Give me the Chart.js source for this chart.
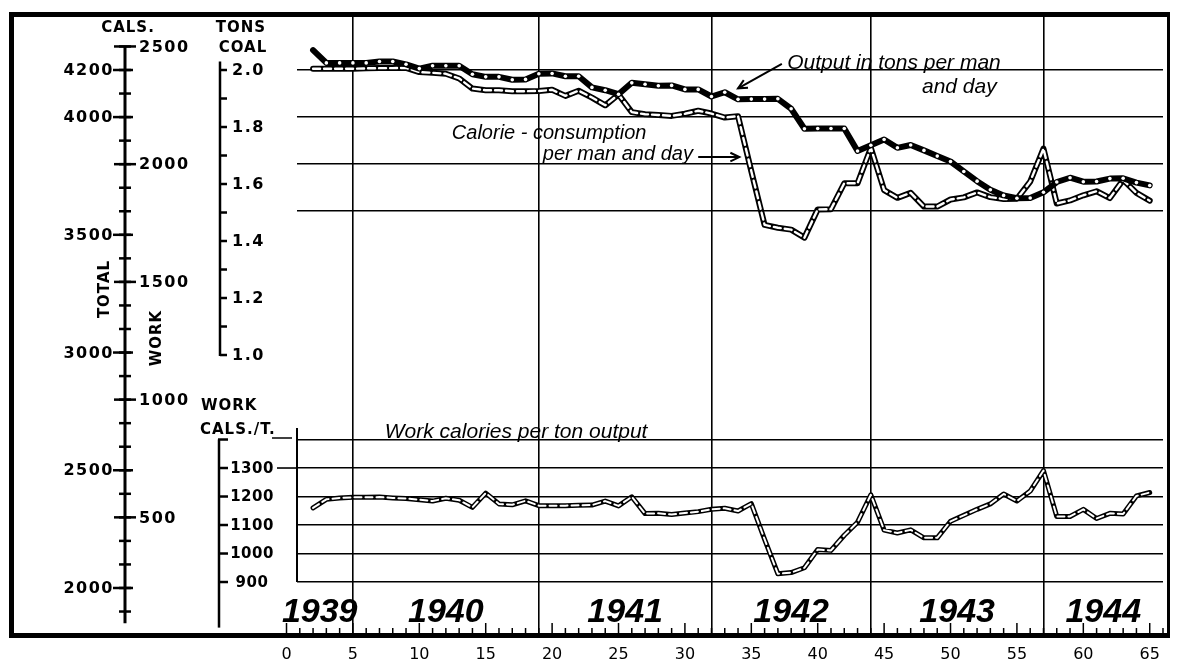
<!DOCTYPE html>
<html>
<head>
<meta charset="utf-8">
<script src="https://cdn.jsdelivr.net/npm/chart.js@4.4.1/dist/chart.umd.min.js"></script>
<style>
  html, body { margin: 0; padding: 0; background: #fff; }
  #wrap { position: relative; width: 1177px; height: 666px; }
  #frame {
    position: absolute; left: 9px; top: 12px; width: 1161px; height: 626px;
    box-sizing: border-box; border: 5px solid #000; border-right-width: 3px;
    pointer-events: none;
  }
</style>
</head>
<body>
<div id="wrap">
  <canvas id="chart" width="1177" height="666"></canvas>
  <div id="frame"></div>
</div>
<script>
// 4-week periods, 1939 - 1944
const periods = [2, 3, 4, 5, 6, 7, 8, 9, 10, 11, 12, 13, 14, 15, 16, 17, 18, 19, 20, 21,
  22, 23, 24, 25, 26, 27, 28, 29, 30, 31, 32, 33, 34, 35, 36, 37, 38, 39, 40, 41,
  42, 43, 44, 45, 46, 47, 48, 49, 50, 51, 52, 53, 54, 55, 56, 57, 58, 59, 60, 61,
  62, 63, 64, 65];

// total calorie consumption per man and day
const calories = [4205, 4205, 4205, 4205, 4207, 4208, 4208, 4209, 4191, 4188, 4184, 4164, 4121, 4114, 4114, 4110, 4110, 4111, 4116, 4090,
  4112, 4083, 4050, 4096, 4021, 4012, 4009, 4005, 4014, 4027, 4015, 3998, 4004, 3770, 3542, 3530, 3522, 3488, 3608, 3609,
  3719, 3719, 3869, 3690, 3657, 3678, 3620, 3620, 3650, 3659, 3680, 3660, 3652, 3653, 3726, 3866, 3633, 3646, 3668, 3685,
  3656, 3733, 3678, 3645];

// output in tons per man and day
const output = [2.07, 2.025, 2.025, 2.025, 2.025, 2.03, 2.03, 2.02, 2.005, 2.015, 2.015, 2.015, 1.985, 1.976, 1.976, 1.966, 1.967, 1.987, 1.988, 1.978,
  1.978, 1.939, 1.929, 1.915, 1.955, 1.95, 1.945, 1.946, 1.932, 1.932, 1.907, 1.922, 1.897, 1.898, 1.898, 1.899, 1.864, 1.794, 1.795, 1.795,
  1.795, 1.716, 1.736, 1.756, 1.727, 1.737, 1.718, 1.698, 1.679, 1.644, 1.61, 1.58, 1.56, 1.55, 1.551, 1.571, 1.607, 1.622, 1.608, 1.609,
  1.619, 1.62, 1.605, 1.595];

// work calories per ton output
const perTon = [1160, 1190, 1195, 1197, 1197, 1198, 1195, 1193, 1189, 1184, 1194, 1187, 1162, 1212, 1174, 1171, 1185, 1168, 1168, 1168,
  1169, 1170, 1184, 1167, 1199, 1140, 1141, 1137, 1142, 1147, 1155, 1159, 1149, 1175, 1050, 929, 933, 950, 1014, 1011,
  1064, 1110, 1206, 1082, 1072, 1083, 1055, 1055, 1113, 1134, 1155, 1174, 1209, 1184, 1219, 1291, 1130, 1130, 1155, 1123,
  1141, 1139, 1202, 1214];

const xLabels = [0, 5, 10, 15, 20, 25, 30, 35, 40, 45, 50, 55, 60, 65];
const yearLines = [5, 19, 32, 44, 57];
const yearBounds = [0, 5, 19, 32, 44, 57, 66];
const yearNames = ['1939', '1940', '1941', '1942', '1943', '1944'];

const totalCalLabels = [4200, 4000, 3500, 3000, 2500, 2000];
const workCalLabels = [2500, 2000, 1500, 1000, 500];
const BASAL = 1800; // total = work + basal
const tonsLabels = [2.0, 1.8, 1.6, 1.4, 1.2, 1.0];
const perTonLabels = [1300, 1200, 1100, 1000, 900];
const calGrid = [3600, 3800, 4000, 4200];
const perTonGrid = [900, 1000, 1100, 1200, 1300, 1400];

const notes = [
  { text: 'Output in tons per man', at: 37.7, cal: 4204, size: 21 },
  { text: 'and day', at: 47.85, cal: 4104, size: 21 },
  { text: 'Calorie - consumption', at: 12.45, cal: 3906, size: 20 },
  { text: 'per man and day', at: 19.3, cal: 3817, size: 20 }
];

function pts(ys) {
  return periods.map((p, i) => ({ x: p, y: ys[i] }));
}

function seg(ctx, x1, y1, x2, y2) {
  ctx.beginPath();
  ctx.moveTo(x1, y1);
  ctx.lineTo(x2, y2);
  ctx.stroke();
}

function arrow(ctx, x1, y1, x2, y2) {
  seg(ctx, x1, y1, x2, y2);
  const a = Math.atan2(y2 - y1, x2 - x1);
  const L = 10;
  ctx.beginPath();
  ctx.moveTo(x2 - L * Math.cos(a - 0.45), y2 - L * Math.sin(a - 0.45));
  ctx.lineTo(x2, y2);
  ctx.lineTo(x2 - L * Math.cos(a + 0.45), y2 - L * Math.sin(a + 0.45));
  ctx.stroke();
}

// axes drawn the old paper way, positioned through the chart scales
const paperAxes = {
  id: 'paperAxes',
  afterDraw(chart) {
    const { ctx, chartArea, scales } = chart;
    const xs = scales.x, yc = scales.yCal, yt = scales.yTons, yw = scales.yWork;
    ctx.save();
    ctx.strokeStyle = '#000';
    ctx.fillStyle = '#000';
    ctx.textBaseline = 'middle';

    // calorie axis (total on the left, work on the right)
    const cx = 125;
    ctx.lineWidth = 3;
    seg(ctx, cx, yc.getPixelForValue(4300), cx, yc.getPixelForValue(1850));
    ctx.lineWidth = 2.5;
    for (let v = 1900; v <= 4300; v += 100) {
      const y = yc.getPixelForValue(v);
      seg(ctx, cx - 6, y, cx + 6, y);
    }
    ctx.font = 'bold 16px "DejaVu Sans"';
    ctx.letterSpacing = '1.5px';
    ctx.textAlign = 'right';
    totalCalLabels.forEach(v => {
      const y = yc.getPixelForValue(v);
      seg(ctx, cx - 12, y, cx + 8, y);
      ctx.fillText(String(v), cx - 11, y + 1);
    });
    ctx.textAlign = 'left';
    workCalLabels.forEach(v => {
      const y = yc.getPixelForValue(v + BASAL);
      seg(ctx, cx - 11, y, cx + 11, y);
      ctx.fillText(String(v), cx + 14, y + 1);
    });

    ctx.font = 'bold 15px "DejaVu Sans"';
    ctx.letterSpacing = '1px';
    ctx.textAlign = 'center';
    ctx.fillText('CALS.', 128, 28);
    ctx.fillText('TONS', 241, 28);
    ctx.fillText('COAL', 243, 48);

    ctx.save();
    ctx.translate(105, 289);
    ctx.rotate(-Math.PI / 2);
    ctx.fillText('TOTAL', 0, 0);
    ctx.restore();
    ctx.save();
    ctx.translate(157, 338);
    ctx.rotate(-Math.PI / 2);
    ctx.fillText('WORK', 0, 0);
    ctx.restore();

    // tons axis
    const tx = 220;
    ctx.lineWidth = 2.5;
    const yTop = yt.getPixelForValue(2.03), yBot = yt.getPixelForValue(1.0);
    seg(ctx, tx, yTop, tx, yBot + 1);
    for (let k = 10; k <= 20; k++) {
      const y = yt.getPixelForValue(k / 10);
      seg(ctx, tx, y, tx + 7, y);
    }
    ctx.font = 'bold 16px "DejaVu Sans"';
    ctx.letterSpacing = '1.5px';
    ctx.textAlign = 'left';
    tonsLabels.forEach(v => {
      const y = yt.getPixelForValue(v);
      ctx.fillText(v.toFixed(1), tx + 12, y + 1);
    });

    // work calories per ton axis
    const wx = 219;
    ctx.lineWidth = 2.5;
    const wTop = yw.getPixelForValue(1400), wBot = yw.getPixelForValue(740);
    seg(ctx, wx, wTop, wx, wBot);
    seg(ctx, wx - 1, wTop, wx + 9, wTop);
    ctx.font = 'bold 15px "DejaVu Sans"';
    ctx.letterSpacing = '0.5px';
    ctx.textAlign = 'center';
    perTonLabels.forEach(v => {
      const y = yw.getPixelForValue(v);
      seg(ctx, wx, y, wx + 9, y);
      ctx.fillText(String(v), 252, y + 1);
    });
    ctx.lineWidth = 1.6;
    const y1300 = yw.getPixelForValue(1300);
    seg(ctx, 277, y1300, chartArea.left, y1300);

    ctx.font = 'bold 15px "DejaVu Sans"';
    ctx.letterSpacing = '1px';
    ctx.textAlign = 'left';
    ctx.fillText('WORK', 201, 406);
    ctx.fillText('CALS./T.', 200, 430);
    ctx.lineWidth = 1.5;
    seg(ctx, 272, 438, 292, 438);

    // left border of the lower panel
    ctx.lineWidth = 2;
    seg(ctx, chartArea.left, yw.getPixelForValue(1440), chartArea.left, yw.getPixelForValue(900));

    // small ticks on the period axis, standing on the frame
    ctx.lineWidth = 1.5;
    for (let v = 0; v <= 66; v++) {
      const x = xs.getPixelForValue(v);
      const len = v % 5 === 0 ? 10 : 5;
      seg(ctx, x, chartArea.bottom, x, chartArea.bottom - len);
    }

    // year names
    ctx.letterSpacing = '0px';
    ctx.font = 'italic bold 34px "Liberation Sans"';
    ctx.textAlign = 'center';
    ctx.textBaseline = 'alphabetic';
    yearNames.forEach((name, i) => {
      const mid = (yearBounds[i] + yearBounds[i + 1]) / 2;
      ctx.fillText(name, xs.getPixelForValue(mid), chartArea.bottom - 11);
    });

    // hand lettering
    ctx.textAlign = 'left';
    notes.forEach(n => {
      ctx.font = 'italic ' + n.size + 'px "Liberation Sans"';
      ctx.fillText(n.text, xs.getPixelForValue(n.at), yc.getPixelForValue(n.cal));
    });
    ctx.font = 'italic 21px "Liberation Sans"';
    ctx.fillText('Work calories per ton output', xs.getPixelForValue(7.4), yw.getPixelForValue(1404));

    ctx.lineWidth = 2;
    arrow(ctx, xs.getPixelForValue(37.3), yc.getPixelForValue(4226), xs.getPixelForValue(34.0), yc.getPixelForValue(4122));
    arrow(ctx, xs.getPixelForValue(31.0), yc.getPixelForValue(3830), xs.getPixelForValue(34.1), yc.getPixelForValue(3830));

    ctx.restore();
  }
};

const xTicks = [...new Set(xLabels.concat(yearLines))].sort((a, b) => a - b);

new Chart(document.getElementById('chart'), {
  type: 'line',
  data: {
    datasets: [
      {
        label: 'Output in tons per man and day',
        data: pts(output),
        yAxisID: 'yTons',
        borderColor: '#000',
        borderWidth: 6,
        pointRadius: c => c.dataIndex === 0 ? 0 : 1.8,
        pointBackgroundColor: '#fff',
        pointBorderWidth: 0,
        order: 1
      },
      {
        label: 'Calorie-consumption (inner)',
        data: pts(calories),
        yAxisID: 'yCal',
        borderColor: '#fff',
        borderWidth: 2.4,
        borderDash: [7, 4],
        pointRadius: 0,
        order: 3
      },
      {
        label: 'Calorie-consumption per man and day',
        data: pts(calories),
        yAxisID: 'yCal',
        borderColor: '#000',
        borderWidth: 6,
        pointRadius: 0,
        order: 4
      },
      {
        label: 'Work calories per ton (inner)',
        data: pts(perTon),
        yAxisID: 'yWork',
        borderColor: '#fff',
        borderWidth: 2,
        borderDash: [7, 4],
        pointRadius: 0,
        order: 3
      },
      {
        label: 'Work calories per ton output',
        data: pts(perTon),
        yAxisID: 'yWork',
        borderColor: '#000',
        borderWidth: 5,
        pointRadius: 0,
        order: 4
      }
    ]
  },
  options: {
    responsive: false,
    animation: false,
    devicePixelRatio: 1,
    layout: { padding: { left: 297, right: 14, top: 17, bottom: 0 } },
    elements: { line: { tension: 0, borderJoinStyle: 'round', borderCapStyle: 'round' } },
    plugins: { legend: { display: false }, tooltip: { enabled: false } },
    scales: {
      x: {
        type: 'linear',
        min: 0.79,
        max: 66,
        border: { display: false },
        grid: {
          drawTicks: false,
          lineWidth: 1.6,
          color: c => (c.tick && yearLines.includes(c.tick.value)) ? '#000' : 'rgba(0,0,0,0)'
        },
        ticks: {
          autoSkip: false,
          maxRotation: 0,
          padding: 12,
          color: '#000',
          font: { family: 'DejaVu Sans', size: 16 },
          callback: v => xLabels.includes(v) ? String(v) : ''
        },
        afterBuildTicks: s => { s.ticks = xTicks.map(v => ({ value: v })); },
        afterFit: s => { s.height = 33; s.paddingLeft = 0; s.paddingRight = 0; }
      },
      yCal: {
        position: 'left',
        min: 1808.8,
        max: 4425.1,
        border: { display: false },
        grid: { color: '#000', lineWidth: 1.6, drawTicks: false },
        ticks: { display: false },
        afterBuildTicks: s => { s.ticks = calGrid.map(v => ({ value: v })); },
        afterFit: s => { s.width = 0; s.paddingTop = 0; s.paddingBottom = 0; }
      },
      yTons: {
        position: 'left',
        display: false,
        min: 0.0246,
        max: 2.186
      },
      yWork: {
        position: 'left',
        min: 721.1,
        max: 2882.5,
        border: { display: false },
        grid: { color: '#000', lineWidth: 1.6, drawTicks: false },
        ticks: { display: false },
        afterBuildTicks: s => { s.ticks = perTonGrid.map(v => ({ value: v })); },
        afterFit: s => { s.width = 0; s.paddingTop = 0; s.paddingBottom = 0; }
      }
    }
  },
  plugins: [paperAxes]
});
</script>
</body>
</html>
